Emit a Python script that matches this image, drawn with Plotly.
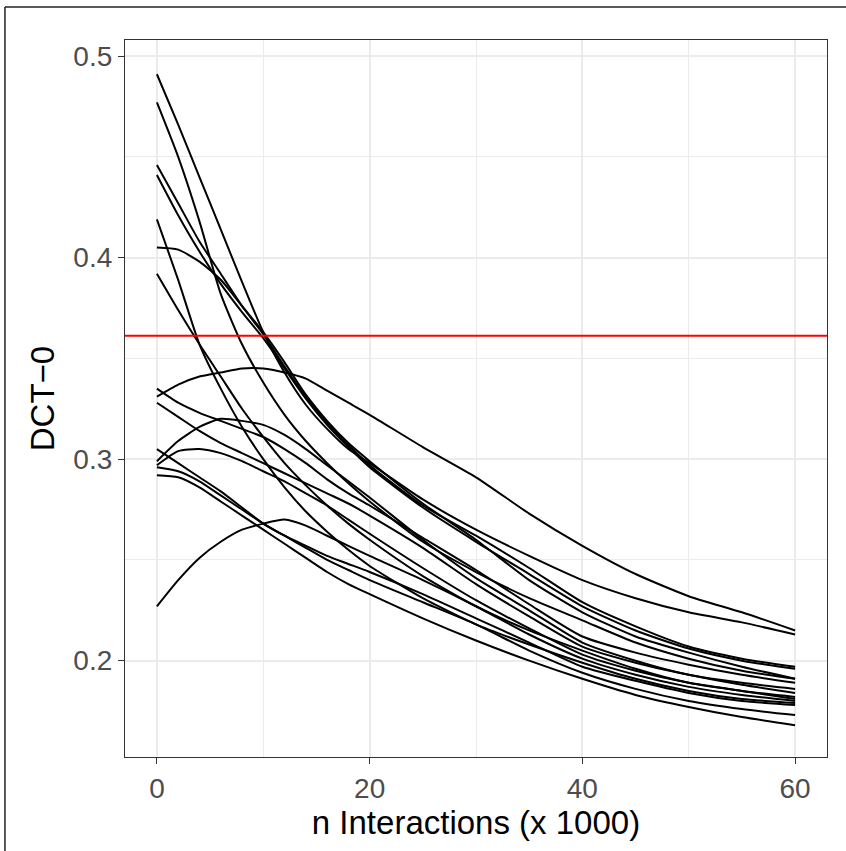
import plotly.graph_objects as go

# x positions (n interactions, thousands)
x_vals = [0, 2, 4, 6, 8, 10, 12, 14, 16, 18, 20, 25, 30, 35, 40, 45, 50, 55, 60]

run_hump331 = [0.331, 0.337, 0.341, 0.343, 0.345, 0.345, 0.343, 0.340, 0.334, 0.328, 0.322, 0.306, 0.291, 0.273, 0.257, 0.243, 0.232, 0.224, 0.215]
run_b491 = [0.491, 0.466, 0.440, 0.414, 0.388, 0.363, 0.343, 0.327, 0.315, 0.305, 0.298, 0.280, 0.265, 0.252, 0.240, 0.231, 0.224, 0.219, 0.213]
run_b477 = [0.477, 0.450, 0.418, 0.382, 0.357, 0.338, 0.322, 0.309, 0.298, 0.288, 0.279, 0.259, 0.244, 0.231, 0.220, 0.209, 0.201, 0.195, 0.191]
run_b446 = [0.446, 0.427, 0.408, 0.392, 0.376, 0.362, 0.346, 0.331, 0.318, 0.307, 0.297, 0.277, 0.262, 0.246, 0.229, 0.217, 0.207, 0.201, 0.197]
run_b441 = [0.441, 0.421, 0.403, 0.387, 0.373, 0.360, 0.345, 0.330, 0.317, 0.306, 0.296, 0.276, 0.259, 0.243, 0.227, 0.215, 0.206, 0.200, 0.196]
run_b405 = [0.405, 0.404, 0.398, 0.389, 0.376, 0.363, 0.348, 0.332, 0.319, 0.308, 0.299, 0.278, 0.260, 0.240, 0.224, 0.212, 0.204, 0.197, 0.191]
run_s419 = [0.419, 0.389, 0.357, 0.335, 0.316, 0.300, 0.286, 0.274, 0.264, 0.255, 0.247, 0.231, 0.218, 0.208, 0.199, 0.191, 0.185, 0.181, 0.179]
run_s392 = [0.392, 0.374, 0.357, 0.341, 0.325, 0.311, 0.298, 0.287, 0.277, 0.268, 0.260, 0.242, 0.227, 0.215, 0.205, 0.196, 0.189, 0.185, 0.182]
run_l335 = [0.335, 0.328, 0.323, 0.319, 0.315, 0.311, 0.305, 0.298, 0.290, 0.283, 0.277, 0.261, 0.245, 0.228, 0.212, 0.204, 0.198, 0.193, 0.189]
run_l328 = [0.328, 0.321, 0.314, 0.308, 0.303, 0.298, 0.293, 0.288, 0.283, 0.278, 0.272, 0.256, 0.238, 0.222, 0.207, 0.199, 0.193, 0.188, 0.184]
run_h299 = [0.299, 0.309, 0.316, 0.320, 0.319, 0.317, 0.312, 0.305, 0.297, 0.289, 0.281, 0.260, 0.241, 0.225, 0.209, 0.200, 0.193, 0.189, 0.186]
run_h297 = [0.297, 0.304, 0.305, 0.303, 0.299, 0.294, 0.289, 0.283, 0.277, 0.270, 0.263, 0.246, 0.230, 0.216, 0.203, 0.195, 0.189, 0.185, 0.181]
run_l305 = [0.305, 0.298, 0.291, 0.284, 0.276, 0.268, 0.262, 0.257, 0.252, 0.248, 0.244, 0.233, 0.221, 0.209, 0.197, 0.190, 0.184, 0.180, 0.178]
run_l296 = [0.296, 0.294, 0.289, 0.282, 0.275, 0.268, 0.262, 0.256, 0.250, 0.245, 0.240, 0.229, 0.218, 0.205, 0.194, 0.186, 0.180, 0.176, 0.173]
run_l292 = [0.292, 0.291, 0.286, 0.279, 0.272, 0.265, 0.258, 0.251, 0.244, 0.238, 0.233, 0.221, 0.210, 0.200, 0.191, 0.183, 0.177, 0.172, 0.168]
run_h227 = [0.227, 0.240, 0.251, 0.259, 0.265, 0.268, 0.270, 0.267, 0.262, 0.257, 0.252, 0.240, 0.227, 0.213, 0.201, 0.193, 0.187, 0.183, 0.180]

runs = [run_hump331, run_b491, run_b477, run_b446, run_b441, run_b405, run_s419, run_s392,
        run_l335, run_l328, run_h299, run_h297, run_l305, run_l296, run_l292, run_h227]

baseline = 0.3612

x_ticks = [0, 20, 40, 60]
y_ticks = [0.2, 0.3, 0.4, 0.5]
y_tick_labels = ["0.2", "0.3", "0.4", "0.5"]

fig = go.Figure()
for r in runs:
    fig.add_trace(go.Scatter(x=x_vals, y=r, mode="lines",
                             line=dict(color="black", width=2, shape="spline", smoothing=0.6),
                             showlegend=False, hoverinfo="skip"))

fig.add_hline(y=baseline, line=dict(color="#FF0000", width=2))

font_family = "Liberation Sans, Arial, sans-serif"
fig.update_layout(
    width=846, height=851,
    margin=dict(l=125, r=19, t=40, b=94),
    paper_bgcolor="white", plot_bgcolor="white",
    font=dict(family=font_family),
    xaxis=dict(range=[-3, 63], tickvals=x_ticks, ticks="outside", ticklen=6,
               tickcolor="#333333", tickwidth=1.2,
               tickfont=dict(size=28, color="#4D4D4D"),
               showgrid=True, gridcolor="#EBEBEB", gridwidth=2,
               minor=dict(tickvals=[10, 30, 50], showgrid=True, gridcolor="#EBEBEB", gridwidth=1, ticks=""),
               zeroline=False, showline=True, linecolor="#333333", linewidth=1.2, mirror=True,
               title=dict(text="n Interactions (x 1000)", font=dict(size=33, color="black"), standoff=6)),
    yaxis=dict(range=[0.1522, 0.508], tickvals=y_ticks, ticktext=y_tick_labels, ticks="outside", ticklen=6,
               tickcolor="#333333", tickwidth=1.2,
               tickfont=dict(size=28, color="#4D4D4D"),
               showgrid=True, gridcolor="#EBEBEB", gridwidth=2,
               minor=dict(tickvals=[0.15, 0.25, 0.35, 0.45], showgrid=True, gridcolor="#EBEBEB", gridwidth=1, ticks=""),
               zeroline=False, showline=True, linecolor="#333333", linewidth=1.2, mirror=True,
               title=dict(text="DCT\u22120", font=dict(size=33, color="black"), standoff=8)),
)

# outer frame lines (top and left edges of the image)
fig.add_shape(type="line", xref="paper", yref="paper", x0=-0.171, x1=-0.171, y0=-0.2, y1=1.046,
              line=dict(color="#222222", width=1.5))
fig.add_shape(type="line", xref="paper", yref="paper", x0=-0.171, x1=1.1, y0=1.046, y1=1.046,
              line=dict(color="#222222", width=1.5))

fig.write_html("out.html", config={"displayModeBar": False},
               post_script="document.body.style.margin='0px';")
